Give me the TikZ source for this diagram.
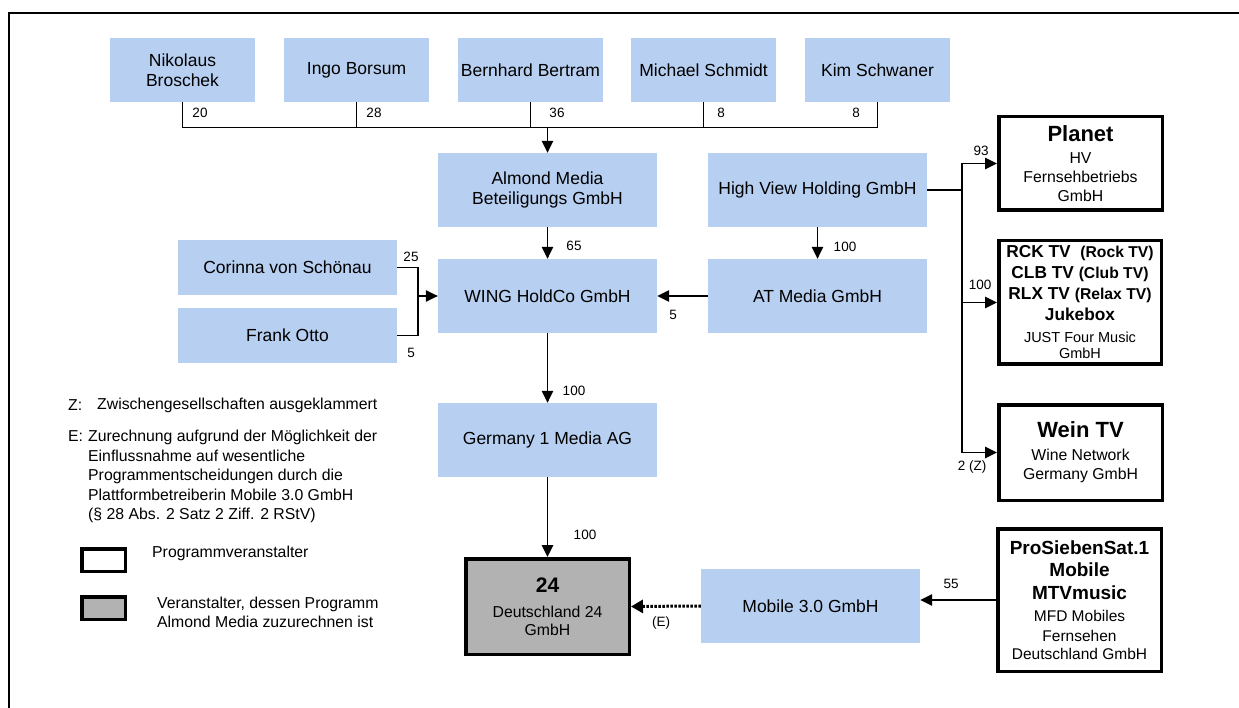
\documentclass[tikz,border=0pt]{standalone}
\usepackage{fontspec}
\setmainfont{Liberation Sans}
\usetikzlibrary{arrows.meta}
\definecolor{boxblue}{RGB}{183,207,240}
\definecolor{opgray}{RGB}{178,178,178}
\begin{document}
\begin{tikzpicture}[x=1pt,y=-1pt,
  bluebox/.style={fill=boxblue, draw=none, inner sep=0pt, align=center, font=\fontsize{17.5}{20}\selectfont},
  progbox/.style={draw=black, line width=3.5pt, fill=white, inner sep=0pt, align=center},
  conn/.style={line width=1.3pt},
  arr/.style={conn, -{Triangle[length=12pt,width=11.5pt]}},
  lbl/.style={font=\fontsize{13.5}{15}\selectfont, inner sep=0pt},
  legtext/.style={font=\fontsize{15.8}{19.5}\selectfont, inner sep=0pt, align=left}
]
\useasboundingbox (0,0) rectangle (1239,708);
% frame
\draw[line width=2.2pt] (9,708) -- (9,13) -- (1239,13);

% owners
\node[bluebox, minimum width=145pt, minimum height=64pt] (nik) at (182.5,70) {Nikolaus\\Broschek};
\node[bluebox, minimum width=145pt, minimum height=64pt] (ingo) at (356.5,70) {Ingo Borsum};
\node[bluebox, minimum width=145pt, minimum height=64pt] (bern) at (530.5,70) {Bernhard Bertram};
\node[bluebox, minimum width=145pt, minimum height=64pt] (mich) at (703.5,70) {Michael Schmidt};
\node[bluebox, minimum width=145pt, minimum height=64pt] (kim) at (877.5,70) {Kim Schwaner};

% companies
\node[bluebox, minimum width=219pt, minimum height=74pt] (almond) at (547.5,190) {Almond Media\\Beteiligungs GmbH};
\node[bluebox, minimum width=219pt, minimum height=74pt] (hv) at (817.5,190) {High View Holding GmbH};
\node[bluebox, minimum width=219pt, minimum height=74pt] (wing) at (547.5,296) {WING HoldCo GmbH};
\node[bluebox, minimum width=219pt, minimum height=74pt] (atm) at (817.5,296) {AT Media GmbH};
\node[bluebox, minimum width=219pt, minimum height=55pt] (cor) at (287.5,267.5) {Corinna von Schönau};
\node[bluebox, minimum width=219pt, minimum height=55pt] (frank) at (287.5,335.5) {Frank Otto};
\node[bluebox, minimum width=219pt, minimum height=74pt] (g1) at (547.5,440) {Germany 1 Media AG};
\node[bluebox, minimum width=219pt, minimum height=74pt] (mobile) at (810.5,606) {Mobile 3.0 GmbH};

% broadcasters
\node[progbox, fill=opgray, minimum width=163.5pt, minimum height=95.5pt, font=\fontsize{15.8}{18}\selectfont] (d24) at (547.5,606.5)
  {{\bfseries\fontsize{21}{18}\selectfont 24}\\[7pt] Deutschland 24\\ GmbH};
\node[progbox, minimum width=163.5pt, minimum height=93.5pt, font=\fontsize{15.8}{19}\selectfont] (planet) at (1080.5,163.5)
  {{\bfseries\fontsize{22}{19}\selectfont Planet}\\[3pt] HV\\ Fernsehbetriebs\\ GmbH};
\node[progbox, minimum width=162.5pt, minimum height=123.5pt, font=\fontsize{17.3}{21}\selectfont\bfseries] (rck) at (1080,302.5)
  {RCK TV\ \ {\fontsize{15.7}{21}\selectfont (Rock TV)}\\
   CLB TV {\fontsize{15.7}{21}\selectfont (Club TV)}\\
   RLX TV {\fontsize{15.7}{21}\selectfont (Relax TV)}\\
   Jukebox\\[1pt]
   {\normalfont\fontsize{14.5}{16}\selectfont JUST Four Music}\\[-5pt]
   {\normalfont\fontsize{14.5}{16}\selectfont GmbH}};
\node[progbox, minimum width=163.5pt, minimum height=95.5pt, font=\fontsize{15.8}{19}\selectfont] (wein) at (1080.5,452.5)
  {{\bfseries\fontsize{22}{19}\selectfont Wein TV}\\[4pt] Wine Network\\ Germany GmbH};
\node[progbox, minimum width=163.5pt, minimum height=142.5pt, font=\fontsize{15.5}{19}\selectfont] (ps) at (1079.5,600)
  {{\bfseries\fontsize{19}{19}\selectfont ProSiebenSat.1}\\[3.5pt]
   {\bfseries\fontsize{19}{19}\selectfont Mobile}\\[3.5pt]
   {\bfseries\fontsize{19}{19}\selectfont MTVmusic}\\[3pt]
   MFD Mobiles\\[1pt] Fernsehen\\[-1pt] Deutschland GmbH};

% top connectors
\path (almond.north) ++(0,-25) coordinate (bar);
\draw[conn] (nik.south) |- (kim.south |- bar) -- (kim.south);
\draw[conn] (ingo.south) -- (ingo.south |- bar);
\draw[conn] (bern.south) -- (bern.south |- bar);
\draw[conn] (mich.south) -- (mich.south |- bar);
\draw[arr] (bar) -- (almond.north);
\node[lbl] (l20) at (200,113) {20};
\node[lbl] (l28) at (374,113) {28};
\node[lbl] (l36) at (557,113) {36};
\node[lbl] (l8a) at (721,113) {8};
\node[lbl] (l8b) at (856,113) {8};

% middle
\draw[arr] (almond.south) -- (wing.north);
\node[lbl] (l65) at (574,246) {65};
\draw[arr] (hv.south) -- (atm.north);
\node[lbl] (l100a) at (845,247) {100};
\draw[arr] (atm.west) -- (wing.east);
\node[lbl] (l5a) at (673,315) {5};
\coordinate (cj) at (418,296);
\draw[conn] (cor.east) -| (cj) |- (frank.east);
\draw[arr] (cj) -- (wing.west);
\node[lbl] (l25) at (411,257) {25};
\node[lbl] (l5b) at (411,353) {5};
\draw[arr] (wing.south) -- (g1.north);
\node[lbl] (l100b) at (574,391) {100};
\draw[arr] (g1.south) -- (d24.north);
\node[lbl] (l100c) at (585,535) {100};

% high view branches
\coordinate (hvx) at (962,190);
\draw[conn] (hv.east) -- (hvx);
\draw[conn] (planet.west -| hvx) -- (wein.west -| hvx);
\draw[arr] (planet.west -| hvx) -- (planet.west);
\draw[arr] (rck.west -| hvx) -- (rck.west);
\draw[arr] (wein.west -| hvx) -- (wein.west);
\node[lbl] (l93) at (981,151) {93};
\node[lbl] (l100d) at (980,285) {100};
\node[lbl] (l2z) at (972,467) {2 (Z)};

% bottom
\draw[arr] (ps.west) -- (ps.west -| mobile.east);
\node[lbl] (l55) at (951,584) {55};
\draw[line width=3pt, dash pattern=on 2.5pt off 1.5pt, -{Triangle[length=12pt,width=13pt]}] (mobile.west) -- (d24.east);
\node[lbl] (le) at (661,623) {(E)};

% legend
\node[legtext, anchor=west] (zkey) at (68,405) {Z:};
\node[legtext, anchor=west] (ztext) at (97,405) {Zwischengesellschaften ausgeklammert};
\node[legtext, anchor=west] (ekey) at (68,436) {E:};
\node[legtext, anchor=north west] (etext) at (88,430) {Zurechnung aufgrund der Möglichkeit der\\Einflussnahme auf wesentliche\\Programmentscheidungen durch die\\Plattformbetreiberin Mobile 3.0 GmbH\\(§ 28 Abs. 2 Satz 2 Ziff. 2 RStV)};
\node[draw=black, line width=3.5pt, fill=white, minimum width=43.5pt, minimum height=22.5pt, inner sep=0pt] (legwhite) at (103.5,560) {};
\node[draw=black, line width=3.5pt, fill=opgray, minimum width=43.5pt, minimum height=22.5pt, inner sep=0pt] (leggray) at (103.5,608) {};
\node[legtext, anchor=west] (lwtext) at (152,553) {Programmveranstalter};
\node[legtext, anchor=north west, font=\fontsize{15.8}{18.5}\selectfont] (lgtext) at (157,597) {Veranstalter, dessen Programm\\Almond Media zuzurechnen ist};
\end{tikzpicture}
\end{document}
